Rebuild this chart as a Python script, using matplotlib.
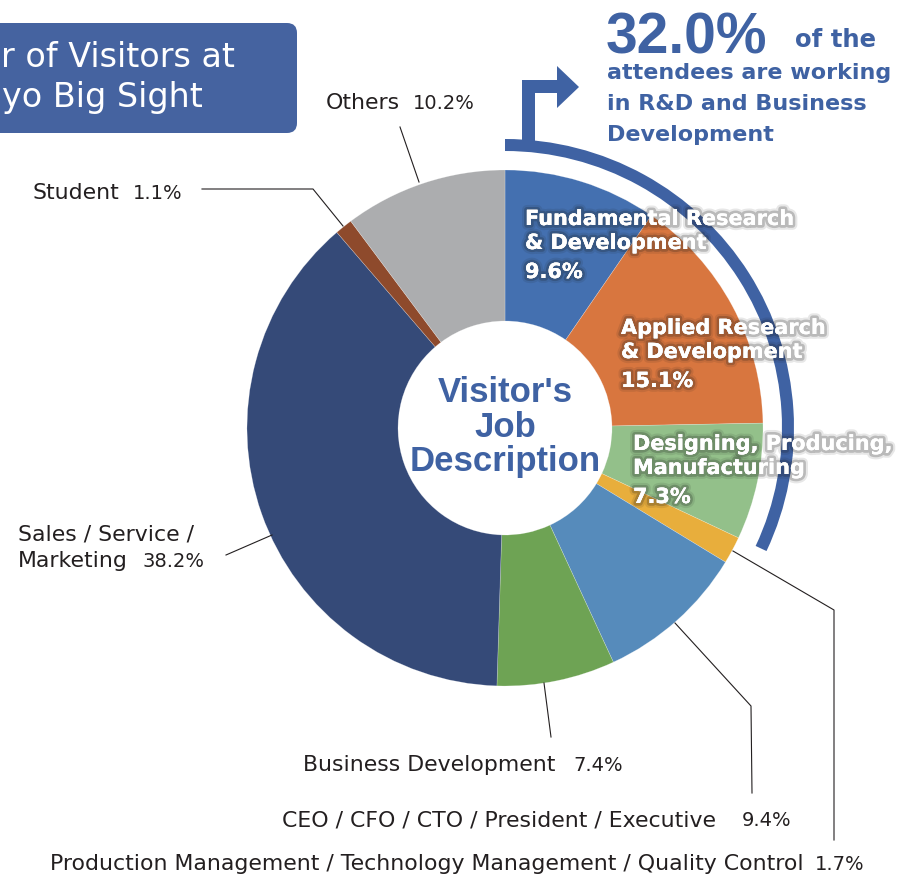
import matplotlib
matplotlib.use("Agg")
import matplotlib.pyplot as plt
import matplotlib.patheffects as pe
from matplotlib.patches import Wedge, Polygon, FancyBboxPatch

# ---------------- data ----------------
categories = [
    "Fundamental Research\n& Development",
    "Applied Research\n& Development",
    "Designing, Producing,\nManufacturing",
    "Production Management / Technology Management / Quality Control",
    "CEO / CFO / CTO / President / Executive",
    "Business Development",
    "Sales / Service /\nMarketing",
    "Student",
    "Others",
]
values = [9.6, 15.1, 7.3, 1.7, 9.4, 7.4, 38.2, 1.1, 10.2]
colors = ["#4470B0", "#D8763F", "#93C08A", "#E8AE3C", "#568BBB",
          "#6EA354", "#354A78", "#8E4A2C", "#ACADAF"]
highlight_count = 3  # first three slices summed in the callout
center_lines = ["Visitor's", "Job", "Description"]
title_lines = ["r of Visitors at", "yo Big Sight"]  # visible (cropped) part of the title

W, H = 897, 874
BLUE = "#3F62A3"
DARK = "#231F20"

fig = plt.figure(figsize=(W / 100, H / 100), dpi=100)
ax = fig.add_axes([0, 0, 1, 1])

cx, cy = 505, 428
R, r_hole = 258, 107

ax.pie(values, colors=colors, startangle=-90, counterclock=True,
       radius=R, center=(cx, cy),
       wedgeprops=dict(width=R - r_hole, linewidth=0.4, edgecolor=(1, 1, 1, 0.35)))

ax.set_xlim(0, W)
ax.set_ylim(H, 0)
ax.set_aspect("auto")
ax.axis("off")

# ---------------- callout ring + arrow ----------------
total = sum(values)
frac = sum(values[:highlight_count]) / total
ax.add_patch(Wedge((cx, cy), 289, -90, -90 + frac * 360, width=12,
                   facecolor=BLUE, edgecolor="none"))
ax.plot([527.5, 527.5, 560], [142, 86, 86], color=BLUE, lw=13 * 0.72,
        solid_joinstyle="miter", solid_capstyle="butt")
ax.add_patch(Polygon([(557, 66), (579, 87), (557, 108)], closed=True,
                     facecolor=BLUE, edgecolor="none"))

pct = f"{sum(values[:highlight_count]):.1f}%"
ax.text(606, 53, pct, fontsize=41, fontweight="bold", color=BLUE,
        family="Liberation Sans", ha="left", va="baseline")
ax.text(795, 47, "of the", fontsize=17.5, fontweight="bold", color=BLUE,
        family="DejaVu Sans", ha="left", va="baseline")
for txt, yb in zip(["attendees are working", "in R&D and Business", "Development"],
                   [79, 110, 141]):
    ax.text(607, yb, txt, fontsize=16, fontweight="bold", color=BLUE,
            family="DejaVu Sans", ha="left", va="baseline")

# ---------------- title box ----------------
ax.add_patch(FancyBboxPatch((-40, 23), 337, 110,
                            boxstyle="round,pad=0,rounding_size=10",
                            facecolor="#4563A0", edgecolor="none"))
ax.text(235, 67, title_lines[0], fontsize=24, color="white", family="DejaVu Sans",
        ha="right", va="baseline")
ax.text(2, 107, title_lines[1], fontsize=24, color="white", family="DejaVu Sans",
        ha="left", va="baseline")

# ---------------- centre text ----------------
for txt, yb in zip(center_lines, [402, 437, 471]):
    ax.text(cx, yb, txt, fontsize=25, fontweight="bold", color=BLUE,
            family="Liberation Sans", ha="center", va="baseline")

# ---------------- inner labels (white with shadow) ----------------
shadow = [pe.withStroke(linewidth=7, foreground=(0.1, 0.1, 0.1, 0.10)),
          pe.withStroke(linewidth=4, foreground=(0.1, 0.1, 0.1, 0.22)),
          pe.Normal()]
inner_pos = [(525, 225), (621, 334), (633, 450)]
for i, (x, yb) in enumerate(inner_pos):
    l1, l2 = categories[i].split("\n")
    for txt, dy in zip([l1, l2, f"{values[i]}%"], [0, 24, 53]):
        ax.text(x, yb + dy, txt, fontsize=15, fontweight="bold", color="white",
                family="DejaVu Sans", ha="left", va="baseline", path_effects=shadow)

# ---------------- outer labels ----------------
lab_fs, pct_fs = 15.8, 14
def outer(name, value, x, yb, px):
    ax.text(x, yb, name, fontsize=lab_fs, color=DARK, family="DejaVu Sans",
            ha="left", va="baseline")
    ax.text(px, yb, f"{value}%", fontsize=pct_fs, color=DARK, family="DejaVu Sans",
            ha="left", va="baseline")

outer(categories[8], values[8], 326, 109, 413)
outer(categories[7], values[7], 32, 199, 133)
ax.text(18, 540, categories[6].split("\n")[0], fontsize=lab_fs, color=DARK,
        family="DejaVu Sans", ha="left", va="baseline")
outer(categories[6].split("\n")[1], values[6], 18, 567, 142)
outer(categories[5], values[5], 303, 771, 573)
outer(categories[4], values[4], 282, 826, 742)
outer(categories[3], values[3], 50, 870, 815)

# leader lines
lk = dict(color=DARK, lw=0.8)
ax.plot([400, 419], [127, 182], **lk)
ax.plot([202, 313, 343], [189, 189, 226], **lk)
ax.plot([226, 272], [555, 535], **lk)
ax.plot([544, 551], [683, 737], **lk)
ax.plot([675, 751, 752], [623, 706, 793], **lk)
ax.plot([733, 834, 834], [551, 610, 840], **lk)

fig.savefig("out.png", dpi=100)
